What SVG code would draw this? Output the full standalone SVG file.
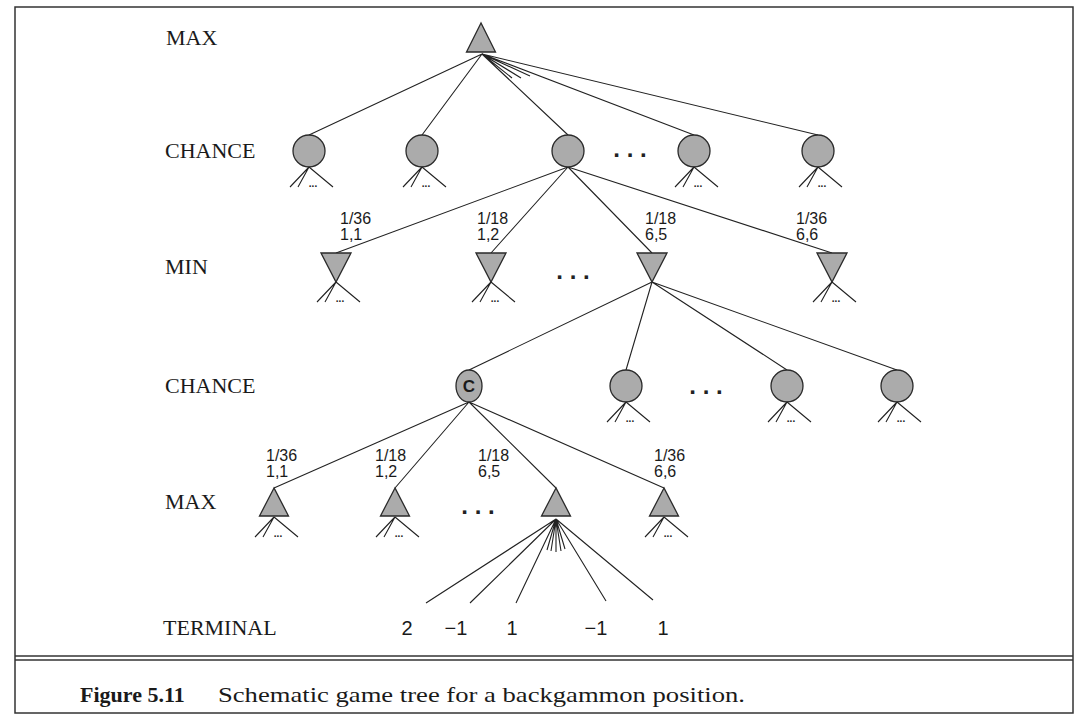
<svg xmlns="http://www.w3.org/2000/svg" width="1078" height="716" viewBox="0 0 1078 716">
<style>
.frame{fill:none;stroke:#333;stroke-width:1.5}
.node{fill:#ababab;stroke:#2a2a2a;stroke-width:1.3}
.edge{stroke:#222;stroke-width:1.1;fill:none}
.lvl{font-family:"Liberation Serif","Times New Roman",serif;font-size:22px;fill:#1a1a1a}
.prob{font-family:"Liberation Sans",Arial,sans-serif;font-size:16px;fill:#1a1a1a}
.term{font-family:"Liberation Sans",Arial,sans-serif;font-size:20px;fill:#1a1a1a;text-anchor:middle}
.more{font-family:"Liberation Sans",Arial,sans-serif;font-size:10px;font-weight:bold;fill:#222;text-anchor:middle}
.dots{font-family:"Liberation Sans",Arial,sans-serif;font-size:24px;font-weight:bold;fill:#222;text-anchor:middle}
.cap{font-family:"Liberation Serif","Times New Roman",serif;font-size:22px;fill:#1a1a1a}
.clabel{font-family:"Liberation Sans",Arial,sans-serif;font-size:17px;font-weight:bold;fill:#1a1a1a;text-anchor:middle}
</style>
<rect x="0" y="0" width="1078" height="716" fill="#fff"/>
<g id="frame">
<rect class="frame" x="15" y="7" width="1058" height="706"/>
<line class="frame" x1="15" y1="656" x2="1073" y2="656"/>
<line class="frame" x1="15" y1="660" x2="1073" y2="660"/>
</g>
<g id="level-labels">
<text class="lvl" x="166" y="45">MAX</text>
<text class="lvl" x="165" y="158">CHANCE</text>
<text class="lvl" x="165" y="274">MIN</text>
<text class="lvl" x="165" y="393">CHANCE</text>
<text class="lvl" x="165" y="509">MAX</text>
<text class="lvl" x="163" y="635">TERMINAL</text>
</g>
<g id="connectors">
<path class="edge" d="M482 54 L309 135 M482 54 L422 135 M482 54 L568 135 M482 54 L694 135 M482 54 L818 135 M482 54 L512 78 M482 54 L521 78 M482 54 L530 76"/>
<path class="edge" d="M568 167 L336 253 M568 167 L491 253 M568 167 L652 253 M568 167 L832 253"/>
<path class="edge" d="M652 282 L469 370 M652 282 L626 370 M652 282 L787 370 M652 282 L897 370"/>
<path class="edge" d="M469 402 L274 488 M469 402 L395 488 M469 402 L556 488 M469 402 L664 488"/>
<path class="edge" d="M556 519 L426 603 M556 519 L470 603 M556 519 L516 603 M556 519 L606 601 M556 519 L653 600 M556 519 L547 550 M556 519 L551 551 M556 519 L556 552 M556 519 L561 551 M556 519 L565 549"/>
</g>
<g id="edge-labels">
<text class="prob" x="340" y="224"><tspan x="340" y="224">1/36</tspan><tspan x="340" y="240">1,1</tspan></text>
<text class="prob" x="477" y="224"><tspan x="477" y="224">1/18</tspan><tspan x="477" y="240">1,2</tspan></text>
<text class="prob" x="645" y="224"><tspan x="645" y="224">1/18</tspan><tspan x="645" y="240">6,5</tspan></text>
<text class="prob" x="796" y="224"><tspan x="796" y="224">1/36</tspan><tspan x="796" y="240">6,6</tspan></text>
<text class="prob" x="266" y="461"><tspan x="266" y="461">1/36</tspan><tspan x="266" y="477">1,1</tspan></text>
<text class="prob" x="375" y="461"><tspan x="375" y="461">1/18</tspan><tspan x="375" y="477">1,2</tspan></text>
<text class="prob" x="478" y="461"><tspan x="478" y="461">1/18</tspan><tspan x="478" y="477">6,5</tspan></text>
<text class="prob" x="654" y="461"><tspan x="654" y="461">1/36</tspan><tspan x="654" y="477">6,6</tspan></text>
</g>
<g id="ellipses">
<text class="dots" x="630" y="157">. . .</text>
<text class="dots" x="573" y="279">. . .</text>
<text class="dots" x="706" y="394">. . .</text>
<text class="dots" x="478" y="514">. . .</text>
</g>
<g id="max-root"><polygon class="node" points="481,23 466.5,52 495.5,52"/></g>
<g id="chance-1">
<circle class="node" cx="309" cy="151" r="16"/>
<path class="edge" d="M309 167 l-19 20 M309 167 l-11 20 M309 167 l24 20"/><text class="more" x="313" y="187">...</text>
</g>
<g id="chance-2">
<circle class="node" cx="422" cy="151" r="16"/>
<path class="edge" d="M422 167 l-19 20 M422 167 l-11 20 M422 167 l24 20"/><text class="more" x="426" y="187">...</text>
</g>
<g id="chance-3"><circle class="node" cx="568" cy="151" r="16"/></g>
<g id="chance-4">
<circle class="node" cx="694" cy="151" r="16"/>
<path class="edge" d="M694 167 l-19 20 M694 167 l-11 20 M694 167 l24 20"/><text class="more" x="698" y="187">...</text>
</g>
<g id="chance-5">
<circle class="node" cx="818" cy="151" r="16"/>
<path class="edge" d="M818 167 l-19 20 M818 167 l-11 20 M818 167 l24 20"/><text class="more" x="822" y="187">...</text>
</g>
<g id="min-1">
<polygon class="node" points="321,253 351,253 336,282"/>
<path class="edge" d="M336 282 l-19 20 M336 282 l-11 20 M336 282 l24 20"/><text class="more" x="340" y="302">...</text>
</g>
<g id="min-2">
<polygon class="node" points="476,253 506,253 491,282"/>
<path class="edge" d="M491 282 l-19 20 M491 282 l-11 20 M491 282 l24 20"/><text class="more" x="495" y="302">...</text>
</g>
<g id="min-3"><polygon class="node" points="637,253 667,253 652,282"/></g>
<g id="min-4">
<polygon class="node" points="817,253 847,253 832,282"/>
<path class="edge" d="M832 282 l-19 20 M832 282 l-11 20 M832 282 l24 20"/><text class="more" x="836" y="302">...</text>
</g>
<g id="chance-c">
<ellipse class="node" cx="469" cy="386" rx="13" ry="16"/>
<text class="clabel" x="469" y="392">C</text>
</g>
<g id="chance-6">
<circle class="node" cx="626" cy="386" r="16"/>
<path class="edge" d="M626 402 l-19 20 M626 402 l-11 20 M626 402 l24 20"/><text class="more" x="630" y="422">...</text>
</g>
<g id="chance-7">
<circle class="node" cx="787" cy="386" r="16"/>
<path class="edge" d="M787 402 l-19 20 M787 402 l-11 20 M787 402 l24 20"/><text class="more" x="791" y="422">...</text>
</g>
<g id="chance-8">
<circle class="node" cx="897" cy="386" r="16"/>
<path class="edge" d="M897 402 l-19 20 M897 402 l-11 20 M897 402 l24 20"/><text class="more" x="901" y="422">...</text>
</g>
<g id="max-1">
<polygon class="node" points="274,488 259.5,516 288.5,516"/>
<path class="edge" d="M274 517 l-19 20 M274 517 l-11 20 M274 517 l24 20"/><text class="more" x="278" y="537">...</text>
</g>
<g id="max-2">
<polygon class="node" points="395,488 380.5,516 409.5,516"/>
<path class="edge" d="M395 517 l-19 20 M395 517 l-11 20 M395 517 l24 20"/><text class="more" x="399" y="537">...</text>
</g>
<g id="max-3"><polygon class="node" points="556,488 541.5,516 570.5,516"/></g>
<g id="max-4">
<polygon class="node" points="664,488 649.5,516 678.5,516"/>
<path class="edge" d="M664 517 l-19 20 M664 517 l-11 20 M664 517 l24 20"/><text class="more" x="668" y="537">...</text>
</g>
<g id="terminals">
<text class="term" x="407" y="635">2</text>
<text class="term" x="456" y="635">−1</text>
<text class="term" x="512" y="635">1</text>
<text class="term" x="596" y="635">−1</text>
<text class="term" x="663" y="635">1</text>
</g>
<g id="caption">
<text class="cap" x="80" y="702" font-weight="bold">Figure 5.11</text>
<text class="cap" x="218" y="702" textLength="527" lengthAdjust="spacingAndGlyphs">Schematic game tree for a backgammon position.</text>
</g>
</svg>
